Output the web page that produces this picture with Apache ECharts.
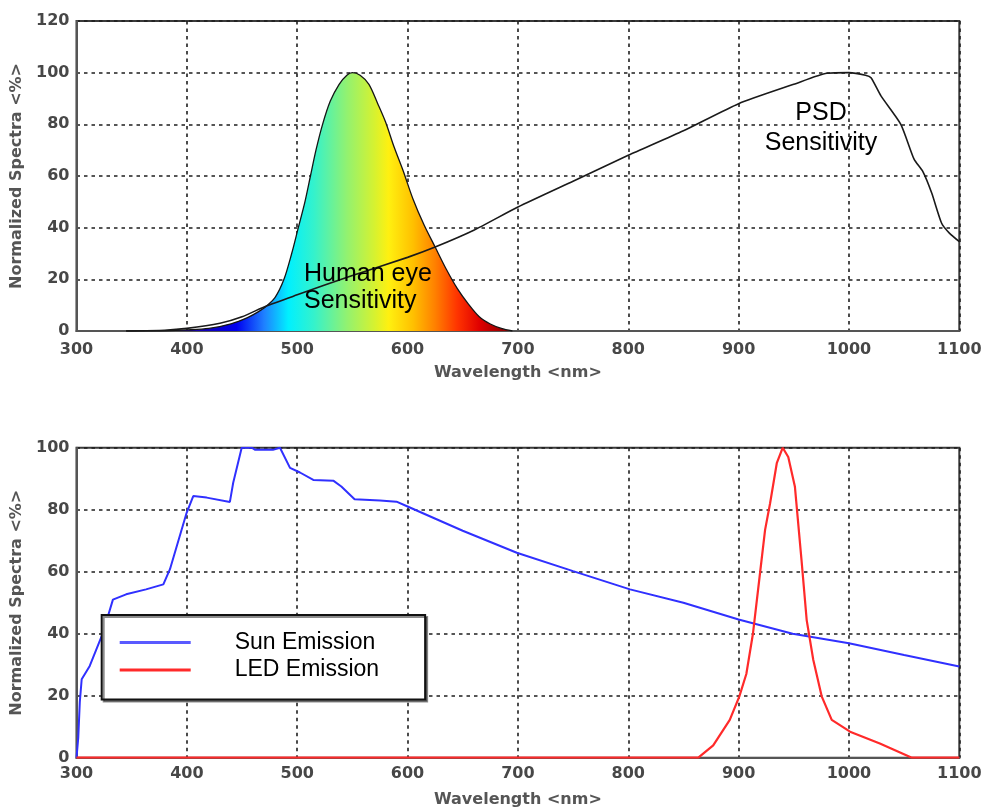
<!DOCTYPE html>
<html>
<head>
<meta charset="utf-8">
<script src="https://cdn.jsdelivr.net/npm/echarts@6/dist/echarts.min.js"></script>
<style>
  html, body { margin: 0; padding: 0; background: #ffffff; }
  #chart { width: 986px; height: 810px; }
</style>
</head>
<body>
<div id="chart"></div>
<script>
// Wavelength axis ticks (nm) shared by both panels
const wavelengthTicks = [300, 400, 500, 600, 700, 800, 900, 1000, 1100];
const topPercentTicks = [0, 20, 40, 60, 80, 100, 120];
const bottomPercentTicks = [0, 20, 40, 60, 80, 100];

// Human eye (photopic) sensitivity, %
const eyeNm  = [345, 380, 400, 420, 440, 455, 465, 472, 480, 488, 495, 501, 507, 512, 517, 523, 530, 538, 545, 550,
                557, 565, 573, 580, 588, 596, 605, 615, 625, 635, 645, 655, 665, 675, 685, 695];
const eyeVal = [0, 0.1, 0.4, 1.0, 2.8, 5.2, 7.5, 9.6, 13, 20, 30, 40, 50, 60, 70, 80, 89, 95.5, 99, 100,
                99, 95.5, 88, 81, 71, 62, 51, 41, 32.5, 24, 16.5, 10.5, 5.5, 2.7, 1.0, 0];

// PSD sensitivity, %
const psdNm  = [345, 380, 400, 430, 450, 472, 500, 550, 600, 625, 660, 700, 750, 800, 850, 900, 950, 980, 1000,
                1015, 1020, 1029, 1047, 1059, 1067, 1075, 1084, 1091, 1100];
const psdVal = [0, 0.3, 1.0, 3.0, 5.5, 9.7, 14, 21.5, 28.5, 32.5, 39, 48, 58, 68, 77.5, 88, 95.5, 99.8, 100,
                99, 98, 91, 80, 66.5, 61.7, 53.4, 41.7, 37.9, 34.6];

// Sun emission, %
const sunNm  = [300, 301.6, 303, 304.7, 312, 324, 333, 345, 363, 378.7, 384.7, 399.8, 405.8, 418, 439, 442, 449.7,
                458.8, 462, 478, 484.4, 493.5, 502.5, 514.6, 533, 540, 552, 575, 590, 599, 650, 699, 750, 801.6,
                850, 900, 949, 1000, 1050, 1100];
const sunVal = [0, 6.5, 18, 25.3, 29.6, 40.3, 51, 52.7, 54.3, 55.9, 60.8, 79, 84.4, 83.9, 82.5, 88.7, 100,
                100, 99.3, 99.3, 100, 93.5, 92, 89.6, 89.3, 87.5, 83.4, 83, 82.6, 81.2, 73.2, 66.1, 60.2, 54.3,
                50, 44.6, 40, 36.9, 33.1, 29.4];

// LED emission, %
const ledNm  = [300, 863.5, 877, 892, 900.6, 907, 913, 919.4, 924, 928.5, 934.6, 940, 945, 951, 957, 961.7,
                967.7, 975.3, 984.4, 1001, 1028, 1057, 1100];
const ledVal = [0, 0, 4, 12.2, 19.7, 27, 40, 59.5, 73.5, 82, 95, 100, 97, 87.5, 63.8, 44.4,
                31.5, 19.8, 12.2, 8.4, 4.6, 0, 0];

// Spectrum colours painted under the eye-sensitivity curve
const spectrumNm    = [400, 445, 470, 492, 515, 545, 570, 583, 605, 625, 645, 665, 690];
const spectrumColor = ['#1c0098', '#0000f0', '#1f80ff', '#00f0ff', '#34f2cc', '#92f270', '#d6f230',
                       '#fff010', '#ffc000', '#ff8000', '#ff3400', '#e00000', '#8c0000'];

const pairs = (xs, ys) => xs.map((x, i) => [x, ys[i]]);

const eyeSpan = eyeNm[eyeNm.length - 1] - eyeNm[0];
const spectrumFill = {
  type: 'linear', x: 0, y: 0, x2: 1, y2: 0,
  colorStops: spectrumNm.map((nm, i) => ({
    offset: Math.min(1, Math.max(0, (nm - eyeNm[0]) / eyeSpan)),
    color: spectrumColor[i]
  }))
};

const tickFont = { fontFamily: 'DejaVu Sans', fontWeight: 'bold', fontSize: 16, color: '#474747' };
const nameFont = { fontFamily: 'DejaVu Sans', fontWeight: 'bold', fontSize: 16, color: '#555555' };
const gridDash = { color: '#1e1e1e', width: 1.6, type: [3.5, 4] };

function xAxisFor(gridIndex, labelMargin) {
  return {
    type: 'value', gridIndex,
    min: wavelengthTicks[0], max: wavelengthTicks[wavelengthTicks.length - 1],
    interval: wavelengthTicks[1] - wavelengthTicks[0],
    name: 'Wavelength <nm>', nameLocation: 'middle', nameGap: 34, nameTextStyle: nameFont,
    axisLine: { show: true, lineStyle: { color: '#555', width: 2 } },
    axisTick: { show: false },
    axisLabel: Object.assign({ margin: labelMargin, formatter: v => String(v) }, tickFont),
    splitLine: { show: true, lineStyle: gridDash }
  };
}
function yAxisFor(gridIndex, ticks) {
  return {
    type: 'value', gridIndex,
    min: ticks[0], max: ticks[ticks.length - 1], interval: ticks[1] - ticks[0],
    name: 'Normalized Spectra <%>', nameLocation: 'middle', nameRotate: 90, nameGap: 41,
    nameTextStyle: nameFont,
    axisLine: { show: true, lineStyle: { color: '#555', width: 2 } },
    axisTick: { show: false },
    axisLabel: Object.assign({ margin: 7, formatter: v => String(v) }, tickFont),
    splitLine: { show: true, lineStyle: gridDash }
  };
}

const chart = echarts.init(document.getElementById('chart'), null, { renderer: 'canvas' });

chart.setOption({
  backgroundColor: '#ffffff',
  animation: false,
  grid: [
    { left: 76.5, top: 21, right: 26.7, height: 310, show: true, borderColor: '#3a3a3a', borderWidth: 2, backgroundColor: 'transparent' },
    { left: 76.5, top: 447.7, right: 26.7, height: 310, show: true, borderColor: '#3a3a3a', borderWidth: 2, backgroundColor: 'transparent' }
  ],
  xAxis: [xAxisFor(0, 11), xAxisFor(1, 8)],
  yAxis: [yAxisFor(0, topPercentTicks), yAxisFor(1, bottomPercentTicks)],
  legend: {
    data: ['Sun Emission', 'LED Emission'],
    orient: 'vertical',
    left: 101.7, top: 615,
    padding: [14, 46, 16, 18],
    itemGap: 0.5,
    itemWidth: 71, itemHeight: 3,
    icon: 'rect',
    selectedMode: false,
    backgroundColor: '#ffffff',
    borderColor: '#111111', borderWidth: 2,
    shadowColor: 'rgba(0,0,0,0.45)', shadowBlur: 0, shadowOffsetX: 2, shadowOffsetY: 2,
    textStyle: {
      fontFamily: 'Liberation Sans', fontSize: 23, color: '#000000',
      lineHeight: 27, padding: [0, 0, 0, 39]
    }
  },
  graphic: [
    {
      type: 'text', x: 304, y: 261, z: 10,
      style: { text: 'Human eye\nSensitivity', font: '25px "Liberation Sans"', fill: '#000', lineHeight: 27,
               align: 'left', verticalAlign: 'top' }
    },
    {
      type: 'text', x: 821, y: 98, z: 10,
      style: { text: 'PSD\nSensitivity', font: '25px "Liberation Sans"', fill: '#000', lineHeight: 30,
               align: 'center', verticalAlign: 'top' }
    }
  ],
  series: [
    {
      name: 'Human eye Sensitivity', type: 'line', xAxisIndex: 0, yAxisIndex: 0,
      data: pairs(eyeNm, eyeVal), symbol: 'none', smooth: 0.3, z: 2,
      lineStyle: { color: '#151515', width: 1.3 },
      areaStyle: { color: spectrumFill, opacity: 1 }
    },
    {
      name: 'PSD Sensitivity', type: 'line', xAxisIndex: 0, yAxisIndex: 0,
      data: pairs(psdNm, psdVal), symbol: 'none', smooth: 0.2, z: 3,
      lineStyle: { color: '#1a1a1a', width: 1.6 }
    },
    {
      name: 'Sun Emission', type: 'line', xAxisIndex: 1, yAxisIndex: 1,
      data: pairs(sunNm, sunVal), symbol: 'none', z: 3,
      itemStyle: { color: '#5a5aff' },
      lineStyle: { color: '#3030ff', width: 2 }
    },
    {
      name: 'LED Emission', type: 'line', xAxisIndex: 1, yAxisIndex: 1,
      data: pairs(ledNm, ledVal), symbol: 'none', z: 3,
      itemStyle: { color: '#ff2a2a' },
      lineStyle: { color: '#ff2a2a', width: 2.2 }
    }
  ]
});
</script>
</body>
</html>
